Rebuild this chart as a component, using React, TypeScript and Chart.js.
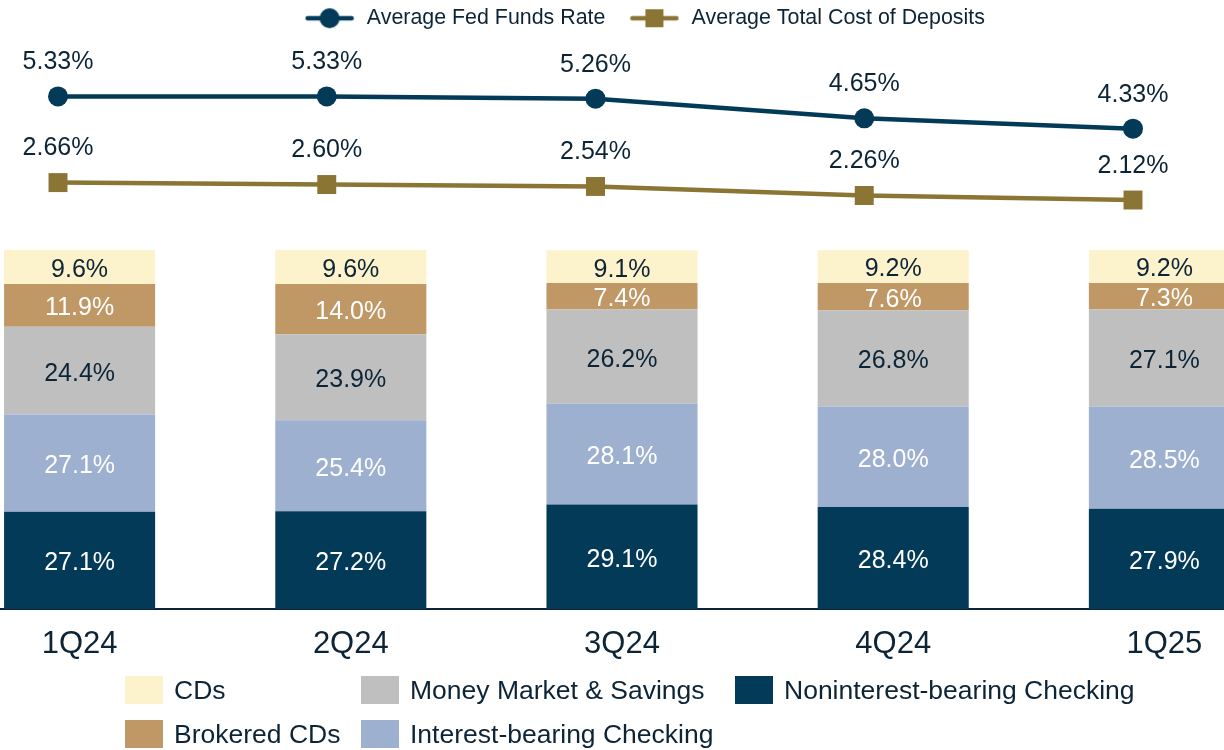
import React, { useEffect, useRef } from 'react';
import { Chart, registerables } from 'chart.js';

Chart.register(...registerables);

// ---------- data ----------
const quarters = ['1Q24', '2Q24', '3Q24', '4Q24', '1Q25'];
const fedFundsRate = [5.33, 5.33, 5.26, 4.65, 4.33];
const costOfDeposits = [2.66, 2.6, 2.54, 2.26, 2.12];
const nonInterestChecking = [27.1, 27.2, 29.1, 28.4, 27.9];
const interestChecking = [27.1, 25.4, 28.1, 28.0, 28.5];
const moneyMarketSavings = [24.4, 23.9, 26.2, 26.8, 27.1];
const brokeredCDs = [11.9, 14.0, 7.4, 7.6, 7.3];
const certificatesOfDeposit = [9.6, 9.6, 9.1, 9.2, 9.2];

const lineSeriesNames = ['Average Fed Funds Rate', 'Average Total Cost of Deposits'];
const barSeriesNames = [
  'Noninterest-bearing Checking',
  'Interest-bearing Checking',
  'Money Market & Savings',
  'Brokered CDs',
  'CDs',
];

// ---------- style ----------
const NAVY = '#033a58';
const GOLD = '#8b7535';
const TEXT = '#0d2436';
const FONT = "'Liberation Sans', Arial, sans-serif";
const barColors = ['#033a58', '#9db0cf', '#bfbfbf', '#bf9866', '#fcf2cc'];
const barLabelColors = ['#ffffff', '#ffffff', TEXT, '#ffffff', TEXT];

const LINE_CANVAS = { left: 0, top: -15, width: 1230, height: 255 };
const BAR_CANVAS = { left: -56, top: 230, width: 1356, height: 520 };

function makeLegendMarker(kind: 'circle' | 'square', color: string) {
  const c = document.createElement('canvas');
  c.width = 50;
  c.height = 22;
  const ctx = c.getContext('2d')!;
  ctx.strokeStyle = color;
  ctx.lineWidth = 4.5;
  ctx.lineCap = 'round';
  ctx.beginPath();
  ctx.moveTo(3, 11);
  ctx.lineTo(47, 11);
  ctx.stroke();
  ctx.fillStyle = color;
  if (kind === 'circle') {
    ctx.beginPath();
    ctx.arc(25, 11, 10, 0, Math.PI * 2);
    ctx.fill();
  } else {
    ctx.fillRect(16, 2, 18, 18);
  }
  return c;
}

const lineLabelPlugin = {
  id: 'lineLabels',
  afterDatasetsDraw(chart: any) {
    const ctx = chart.ctx;
    ctx.save();
    ctx.font = `25px ${FONT}`;
    ctx.fillStyle = TEXT;
    ctx.textAlign = 'center';
    ctx.textBaseline = 'middle';
    chart.data.datasets.forEach((ds: any, di: number) => {
      const meta = chart.getDatasetMeta(di);
      meta.data.forEach((pt: any, i: number) => {
        ctx.fillText(`${Number(ds.data[i]).toFixed(2)}%`, pt.x, pt.y - 34);
      });
    });
    ctx.restore();
  },
};

const barLabelPlugin = {
  id: 'barLabels',
  afterDatasetsDraw(chart: any) {
    const ctx = chart.ctx;
    ctx.save();
    ctx.font = `25px ${FONT}`;
    ctx.textAlign = 'center';
    ctx.textBaseline = 'middle';
    chart.data.datasets.forEach((ds: any, di: number) => {
      const meta = chart.getDatasetMeta(di);
      ctx.fillStyle = barLabelColors[di];
      meta.data.forEach((bar: any, i: number) => {
        const y = (bar.y + bar.base) / 2;
        ctx.fillText(`${Number(ds.data[i]).toFixed(1)}%`, bar.x, y + 3);
      });
    });
    ctx.restore();
  },
};

// bottom legend laid out in columns like the reference
const legendLayout = [
  { ds: 4, col: 0, row: 0 },
  { ds: 3, col: 0, row: 1 },
  { ds: 2, col: 1, row: 0 },
  { ds: 1, col: 1, row: 1 },
  { ds: 0, col: 2, row: 0 },
];
const legendColX = [125, 361, 735];
const legendRowY = [690, 734];

const barLegendPlugin = {
  id: 'barLegend',
  afterDraw(chart: any) {
    const ctx = chart.ctx;
    ctx.save();
    ctx.font = `26.5px ${FONT}`;
    ctx.textAlign = 'left';
    ctx.textBaseline = 'middle';
    legendLayout.forEach((it) => {
      const ds = chart.data.datasets[it.ds];
      const x = legendColX[it.col] - BAR_CANVAS.left;
      const y = legendRowY[it.row] - BAR_CANVAS.top;
      ctx.fillStyle = ds.backgroundColor;
      ctx.fillRect(x, y - 14, 38, 28);
      ctx.fillStyle = TEXT;
      ctx.fillText(ds.label, x + 49, y + 2);
    });
    ctx.restore();
  },
};

export default function App() {
  const lineRef = useRef<HTMLCanvasElement>(null);
  const barRef = useRef<HTMLCanvasElement>(null);

  useEffect(() => {
    const markers = [makeLegendMarker('circle', NAVY), makeLegendMarker('square', GOLD)];

    const lineChart = new Chart(lineRef.current!, {
      type: 'line',
      data: {
        labels: quarters,
        datasets: [
          {
            label: lineSeriesNames[0],
            data: fedFundsRate,
            borderColor: NAVY,
            backgroundColor: NAVY,
            borderWidth: 4.5,
            pointStyle: 'circle',
            pointRadius: 10,
            pointBorderWidth: 0,
            pointBackgroundColor: NAVY,
            fill: false,
            tension: 0,
            clip: false as any,
          },
          {
            label: lineSeriesNames[1],
            data: costOfDeposits,
            borderColor: GOLD,
            backgroundColor: GOLD,
            borderWidth: 4.5,
            pointStyle: 'rect',
            pointRadius: 13.4,
            pointBorderWidth: 0,
            pointBackgroundColor: GOLD,
            fill: false,
            tension: 0,
            clip: false as any,
          },
        ],
      },
      options: {
        responsive: false,
        animation: false,
        layout: { padding: { left: 58, right: 0, top: 0, bottom: 0 } },
        scales: {
          x: { display: false, offset: false },
          y: {
            position: 'right',
            min: 1.2965,
            max: 7.1115,
            ticks: { display: false },
            grid: { display: false },
            border: { display: false },
            afterFit: (s: any) => {
              s.width = 97;
            },
          },
        },
        plugins: {
          tooltip: { enabled: false },
          legend: {
            position: 'top',
            align: 'center',
            labels: {
              usePointStyle: true,
              pointStyleWidth: 53,
              padding: 22.5,
              color: TEXT,
              font: { size: 21.4, family: FONT },
              generateLabels: (chart: any) =>
                Chart.defaults.plugins.legend.labels
                  .generateLabels(chart)
                  .map((it: any, i: number) => ({ ...it, pointStyle: markers[i], rotation: 0 })),
            },
          },
        },
      },
      plugins: [lineLabelPlugin],
    });

    const barSeries = [
      nonInterestChecking,
      interestChecking,
      moneyMarketSavings,
      brokeredCDs,
      certificatesOfDeposit,
    ];

    const barChart = new Chart(barRef.current!, {
      type: 'bar',
      data: {
        labels: quarters,
        datasets: barSeries.map((d, i) => ({
          label: barSeriesNames[i],
          data: d,
          backgroundColor: barColors[i],
          borderWidth: 0,
          barPercentage: 0.557,
          categoryPercentage: 1,
        })),
      },
      options: {
        responsive: false,
        animation: false,
        layout: { padding: { top: 20, bottom: 91, left: 0, right: 0 } },
        scales: {
          x: {
            stacked: true,
            offset: true,
            grid: { display: false, drawTicks: false },
            border: { display: true, color: TEXT, width: 2 },
            ticks: { color: TEXT, font: { size: 31, family: FONT }, padding: 17 },
            afterFit: (s: any) => {
              s.height = 50;
            },
          },
          y: { stacked: true, display: false, min: 0, max: 100 },
        },
        plugins: {
          legend: { display: false },
          tooltip: { enabled: false },
        },
      },
      plugins: [barLabelPlugin, barLegendPlugin],
    });

    return () => {
      lineChart.destroy();
      barChart.destroy();
    };
  }, []);

  return (
    <div
      style={{
        position: 'fixed',
        left: 0,
        top: 0,
        width: 1224,
        height: 750,
        overflow: 'hidden',
        background: '#ffffff',
      }}
    >
      <canvas
        ref={barRef}
        width={BAR_CANVAS.width}
        height={BAR_CANVAS.height}
        style={{
          position: 'absolute',
          left: BAR_CANVAS.left,
          top: BAR_CANVAS.top,
          width: BAR_CANVAS.width,
          height: BAR_CANVAS.height,
        }}
      />
      <canvas
        ref={lineRef}
        width={LINE_CANVAS.width}
        height={LINE_CANVAS.height}
        style={{
          position: 'absolute',
          left: LINE_CANVAS.left,
          top: LINE_CANVAS.top,
          width: LINE_CANVAS.width,
          height: LINE_CANVAS.height,
        }}
      />
    </div>
  );
}
